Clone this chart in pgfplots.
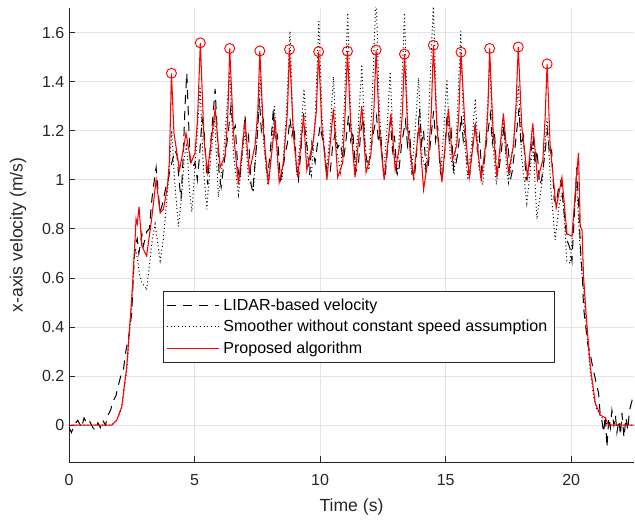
\documentclass[border=0pt]{standalone}
\usepackage{fontspec}
\setmainfont{Liberation Sans}
\usepackage{pgfplots}
\pgfplotsset{compat=1.18}

\definecolor{axgray}{RGB}{38,38,38}
\definecolor{gridgray}{RGB}{228,228,228}

\begin{document}
\begin{tikzpicture}
\begin{axis}[
  scale only axis,
  width=423.75pt, height=340.5pt,
  xmin=0, xmax=22.5, ymin=-0.15, ymax=1.7,
  xtick={0,5,10,15,20},
  ytick={0,0.2,0.4,0.6,0.8,1,1.2,1.4,1.6},
  grid=major,
  major grid style={color=gridgray, line width=0.6pt},
  axis x line*=bottom, axis y line*=left,
  axis line style={color=axgray, line width=0.6pt, -},
  tick style={color=axgray, line width=0.6pt},
  tick align=inside, major tick length=4.5pt,
  /pgf/number format/assume math mode=true,
  ticklabel style={font=\fontsize{12}{14}\selectfont, color=axgray},
  xticklabel style={yshift=-6pt},
  xlabel={Time (s)}, ylabel={x-axis velocity (m/s)},
  label style={font=\fontsize{13.2}{15}\selectfont, color=axgray},
  xlabel style={yshift=-3pt},
  ylabel style={yshift=5pt},
  legend cell align=left,
  legend style={at={(rel axis cs:0.167,0.377)}, anchor=north west,
    draw=axgray, line width=0.6pt, fill=white,
    font=\fontsize{12}{14}\selectfont,
    inner xsep=2pt, inner ysep=3.5pt, row sep=2pt,
    nodes={inner xsep=3pt}},
  legend image code/.code={\draw[#1] (0pt,0pt) -- (39pt,0pt);},
]
% LIDAR-based velocity
\addplot[black, line width=0.75pt, dash pattern=on 7pt off 5pt] coordinates {
(0,-0.01) (0.1,-0.03) (0.2,0.0) (0.35,0.02) (0.5,-0.01) (0.6,0.03) (0.7,0.01)
(0.8,0.02) (0.95,-0.01) (1.05,-0.02) (1.15,0.01) (1.25,-0.01) (1.35,0.02)
(1.45,0.00) (1.55,0.04) (1.65,0.06) (1.77,0.10) (1.87,0.12) (1.96,0.16)
(2.06,0.20) (2.16,0.22) (2.26,0.30) (2.36,0.35) (2.43,0.40) (2.50,0.46)
(2.55,0.58) (2.59,0.66) (2.65,0.74) (2.72,0.76) (2.78,0.70) (2.83,0.73)
(2.90,0.78) (2.96,0.73) (3.03,0.76) (3.10,0.79) (3.20,0.80) (3.30,0.92)
(3.40,1.00) (3.47,1.05) (3.55,0.95) (3.63,0.87) (3.72,0.90) (3.80,0.94)
(3.86,0.97) (3.95,1.00) (4.02,1.04) (4.12,1.08) (4.22,1.12) (4.30,1.10)
(4.38,1.00) (4.46,0.92) (4.55,1.10) (4.62,1.30) (4.69,1.435) (4.76,1.25)
(4.82,1.08) (4.92,1.05) (5.02,1.07) (5.11,1.00) (5.20,1.10) (5.30,1.25)
(5.38,1.20) (5.45,1.08) (5.52,0.98) (5.60,1.10) (5.70,1.22) (5.82,1.37)
(5.90,1.20) (5.98,1.02) (6.06,0.97) (6.15,1.05) (6.25,1.12) (6.35,1.20)
(6.45,1.30) (6.55,1.20) (6.62,1.22) (6.72,1.05) (6.80,1.00) (6.90,1.12)
(7.01,1.265) (7.08,1.15) (7.15,1.18) (7.25,0.98) (7.32,0.95) (7.40,1.06)
(7.50,1.18) (7.58,1.33) (7.66,1.20) (7.74,1.24) (7.85,1.05) (7.92,1.02)
(8.02,1.12) (8.14,1.29) (8.22,1.15) (8.30,1.18) (8.42,1.00) (8.50,1.03)
(8.60,1.10) (8.70,1.15) (8.80,1.25) (8.88,1.18) (8.96,1.22) (9.06,1.05)
(9.14,1.00) (9.22,1.10) (9.34,1.27) (9.42,1.18) (9.50,1.12) (9.58,1.02)
(9.67,1.15) (9.80,1.07) (9.90,1.15) (10.00,1.22) (10.07,1.18) (10.14,1.15)
(10.25,1.05) (10.33,1.02) (10.40,1.03) (10.50,1.14) (10.60,1.19) (10.70,1.13)
(10.80,1.15) (10.93,1.08) (11.02,1.15) (11.13,1.26) (11.22,1.16) (11.30,1.20)
(11.42,1.03) (11.53,1.07) (11.62,1.20) (11.72,1.25) (11.80,1.12) (11.90,1.05)
(12.00,1.10) (12.10,1.18) (12.25,1.26) (12.32,1.15) (12.40,1.20) (12.50,1.06)
(12.58,1.00) (12.68,1.12) (12.80,1.24) (12.88,1.12) (12.96,1.18) (13.06,1.02)
(13.15,1.05) (13.25,1.15) (13.40,1.24) (13.48,1.14) (13.56,1.20) (13.66,1.04)
(13.75,1.00) (13.85,1.12) (13.96,1.29) (14.04,1.15) (14.12,1.20) (14.22,1.03)
(14.30,1.05) (14.40,1.16) (14.52,1.28) (14.60,1.16) (14.68,1.22) (14.78,1.04)
(14.86,1.00) (14.95,1.10) (15.06,1.27) (15.14,1.16) (15.22,1.20) (15.32,1.04)
(15.40,1.06) (15.50,1.12) (15.62,1.26) (15.70,1.16) (15.78,1.21) (15.88,1.03)
(15.96,1.02) (16.05,1.12) (16.18,1.23) (16.26,1.12) (16.34,1.18) (16.44,1.03)
(16.52,1.06) (16.62,1.15) (16.78,1.27) (16.86,1.15) (16.94,1.20) (17.04,1.02)
(17.12,1.04) (17.22,1.12) (17.32,1.22) (17.40,1.12) (17.48,1.15) (17.58,1.00)
(17.66,1.04) (17.78,1.15) (17.92,1.29) (18.00,1.14) (18.10,1.18) (18.20,1.00)
(18.28,1.02) (18.38,1.10) (18.48,1.18) (18.56,1.06) (18.64,1.12) (18.74,0.98)
(18.82,1.00) (18.92,1.08) (19.05,1.20) (19.14,1.10) (19.22,1.12) (19.32,0.92)
(19.40,0.90) (19.50,0.97) (19.60,1.00) (19.68,0.90) (19.76,0.82) (19.85,0.75)
(19.95,0.72) (20.03,0.67) (20.12,0.85) (20.22,1.05) (20.30,0.88) (20.38,0.70)
(20.45,0.60) (20.49,0.48) (20.58,0.40) (20.66,0.33) (20.76,0.29) (20.83,0.25)
(20.89,0.22) (20.98,0.18) (21.09,0.13) (21.15,0.05) (21.22,0.02) (21.29,-0.03)
(21.36,0.04) (21.42,-0.09) (21.50,0.03) (21.56,-0.01) (21.62,0.06) (21.70,0.00)
(21.76,0.04) (21.82,-0.03) (21.90,0.02) (21.96,-0.04) (22.02,0.05) (22.10,-0.05)
(22.18,0.03) (22.25,-0.02) (22.32,0.06) (22.42,0.10) (22.5,0.08)
};
\addlegendentry{LIDAR-based velocity}
% Smoother without constant speed assumption
\addplot[black, line width=0.75pt, dash pattern=on 0.75pt off 2pt] coordinates {
(0,0) (1.7,0) (1.9,0.02) (2.10,0.07) (2.30,0.22) (2.50,0.50) (2.59,0.69)
(2.65,0.72) (2.72,0.68) (2.80,0.62) (2.90,0.58) (3.03,0.565) (3.09,0.55)
(3.20,0.65) (3.32,0.76) (3.43,0.82) (3.52,0.75) (3.63,0.67) (3.75,0.75)
(3.88,0.90) (4.00,1.05) (4.09,1.20) (4.20,1.00) (4.36,0.81) (4.50,0.95)
(4.60,1.10) (4.69,1.14) (4.80,0.95) (4.89,0.87) (5.05,1.10) (5.22,1.38)
(5.35,1.05) (5.49,0.88) (5.65,1.10) (5.80,1.25) (5.95,0.93) (6.15,1.10)
(6.40,1.44) (6.55,1.10) (6.75,0.94) (6.90,1.10) (7.01,1.20) (7.15,1.00)
(7.34,0.96) (7.50,1.20) (7.62,1.42) (7.75,1.15) (7.92,0.98) (8.05,1.10)
(8.18,1.30) (8.32,1.05) (8.48,1.00) (8.65,1.25) (8.80,1.605) (8.92,1.20)
(9.08,1.02) (9.20,1.15) (9.36,1.37) (9.50,1.10) (9.65,1.02) (9.80,1.25)
(9.95,1.646) (10.08,1.25) (10.25,1.02) (10.40,1.20) (10.53,1.42) (10.66,1.12)
(10.82,1.03) (10.96,1.30) (11.10,1.68) (11.22,1.25) (11.38,1.03) (11.52,1.22)
(11.66,1.47) (11.80,1.12) (11.95,1.04) (12.08,1.35) (12.23,1.76) (12.36,1.28)
(12.52,1.02) (12.66,1.20) (12.79,1.44) (12.92,1.12) (13.08,1.03) (13.22,1.30)
(13.36,1.68) (13.48,1.25) (13.64,1.02) (13.78,1.20) (13.92,1.415) (14.06,1.10)
(14.22,1.03) (14.36,1.35) (14.51,1.72) (14.64,1.25) (14.80,1.02) (14.92,1.20)
(15.05,1.41) (15.18,1.10) (15.34,1.02) (15.46,1.25) (15.60,1.605) (15.72,1.20)
(15.88,1.00) (16.04,1.15) (16.18,1.33) (16.32,1.05) (16.48,0.98) (16.62,1.20)
(16.76,1.48) (16.88,1.15) (17.02,0.98) (17.16,1.10) (17.30,1.25) (17.42,1.05)
(17.50,0.99) (17.70,1.15) (17.90,1.38) (18.02,1.10) (18.23,0.905) (18.38,1.05)
(18.48,1.15) (18.63,0.84) (18.85,1.00) (19.04,1.25) (19.20,0.95) (19.36,0.755)
(19.52,0.90) (19.65,0.95) (19.83,0.67) (19.96,0.66) (20.10,0.85) (20.22,0.98)
(20.32,0.78) (20.42,0.62) (20.50,0.55) (20.62,0.38) (20.76,0.22) (20.89,0.115)
(21.00,0.07) (21.15,0.04) (21.30,0.02) (21.45,0.0) (22.5,0)
};
\addlegendentry{Smoother without constant speed assumption}
% Proposed algorithm
\addplot[red, line width=0.8pt] coordinates {
(0,0) (1.70,0) (1.90,0.02) (2.10,0.075) (2.30,0.24) (2.50,0.52) (2.63,0.755)
(2.67,0.84) (2.72,0.82) (2.79,0.89) (2.90,0.73) (3.09,0.69) (3.29,0.84)
(3.47,1.00) (3.63,0.865) (3.76,0.88) (3.92,0.97) (4.00,1.08) (4.08,1.434)
(4.18,1.19) (4.40,1.04) (4.53,1.11) (4.66,1.19) (4.86,1.07) (5.02,1.11)
(5.12,1.25) (5.23,1.558) (5.38,1.16) (5.51,1.03) (5.82,1.29) (6.02,1.05)
(6.22,1.10) (6.32,1.25) (6.40,1.535) (6.55,1.19) (6.75,0.98) (7.01,1.24)
(7.18,1.03) (7.41,1.14) (7.52,1.28) (7.60,1.525) (7.74,1.20) (7.94,0.98)
(8.21,1.245) (8.37,0.99) (8.54,1.07) (8.70,1.28) (8.78,1.531) (8.94,1.18)
(9.11,1.01) (9.34,1.26) (9.47,1.04) (9.73,1.16) (9.85,1.28) (9.94,1.522)
(10.07,1.22) (10.27,1.00) (10.53,1.29) (10.70,1.01) (10.90,1.07) (11.00,1.28)
(11.09,1.524) (11.22,1.22) (11.39,1.01) (11.66,1.30) (11.83,1.03) (12.02,1.10)
(12.14,1.28) (12.23,1.529) (12.36,1.20) (12.55,1.00) (12.82,1.27) (12.99,1.04)
(13.19,1.15) (13.28,1.28) (13.36,1.512) (13.49,1.20) (13.72,1.01) (13.94,1.22)
(14.12,0.96) (14.32,1.10) (14.43,1.28) (14.51,1.548) (14.65,1.22) (14.85,0.99)
(15.11,1.29) (15.27,1.08) (15.44,1.14) (15.53,1.28) (15.61,1.520) (15.78,1.20)
(15.94,1.01) (16.18,1.22) (16.41,1.00) (16.60,1.15) (16.68,1.28) (16.75,1.535)
(16.88,1.22) (17.04,1.01) (17.30,1.27) (17.50,1.03) (17.70,1.14) (17.80,1.30)
(17.89,1.541) (18.03,1.22) (18.26,1.01) (18.47,1.23) (18.66,1.00) (18.87,1.08)
(18.96,1.25) (19.04,1.472) (19.16,1.14) (19.40,0.885) (19.63,1.01) (19.83,0.78)
(20.03,0.77) (20.20,1.00) (20.29,1.11) (20.36,0.81) (20.43,0.795) (20.49,0.605)
(20.62,0.415) (20.76,0.238) (20.96,0.089) (21.16,0.041) (21.35,0.031)
(21.49,0.0) (22.5,0)
};
\addlegendentry{Proposed algorithm}
% detected peaks
\addplot[red, only marks, mark=o, mark size=3.75pt, mark options={line width=0.7pt}, forget plot] coordinates {
(4.08,1.434) (5.23,1.558) (6.40,1.535) (7.60,1.525) (8.78,1.531) (9.94,1.522)
(11.09,1.524) (12.23,1.529) (13.36,1.512) (14.51,1.548) (15.61,1.520)
(16.75,1.535) (17.89,1.541) (19.04,1.472)
};
\end{axis}
\pgfresetboundingbox
\path (current axis.south west) ++(-51.75pt,-44.25pt) rectangle ([shift={(0.75pt,6pt)}]current axis.north east);
\end{tikzpicture}
\end{document}
